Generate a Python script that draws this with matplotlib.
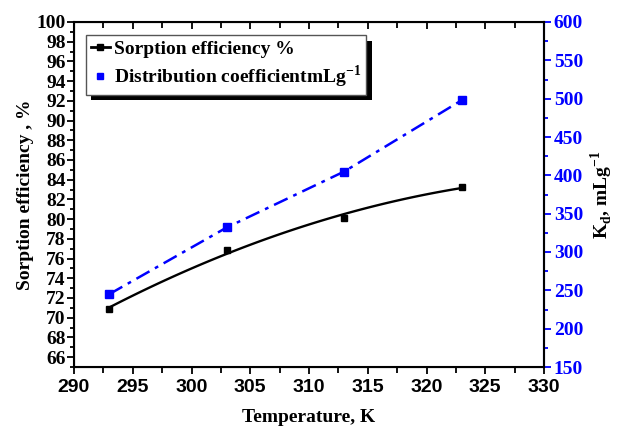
import matplotlib
matplotlib.use('Agg')
import matplotlib.pyplot as plt
import numpy as np
from matplotlib import patheffects
from matplotlib.ticker import MultipleLocator

plt.rcParams['mathtext.fontset'] = 'custom'
plt.rcParams['mathtext.bf'] = 'Liberation Serif:bold'
plt.rcParams['mathtext.rm'] = 'Liberation Serif:bold'

# data
temp = [293, 303, 313, 323]
sorption = [70.9, 76.9, 80.1, 83.3]
kd = [245, 332, 405, 498]

serif = 'Liberation Serif'
sans = 'Liberation Sans'
fs = 14

fig = plt.figure(figsize=(6.2, 4.26), dpi=100)
ax = fig.add_axes([74 / 620, 1 - 367 / 426, 470 / 620, 345 / 426])
ax2 = ax.twinx()

# smooth fitted curve for the sorption efficiency, as in the original
coef = np.polyfit(temp, sorption, 2)
tt = np.linspace(temp[0], temp[-1], 100)
ax.plot(tt, np.polyval(coef, tt), color='black', lw=1.7, zorder=3)
ax.plot(temp, sorption, 's', color='black', ms=5, zorder=4)
ax2.plot(temp, kd, color='blue', lw=1.8, ls=(0, (6, 2.5, 1.5, 2.5)))
ax2.plot(temp, kd, 's', color='blue', ms=5.5)

ax.set_xlim(290, 330)
ax.set_ylim(65, 100)
ax2.set_ylim(150, 600)

ax.xaxis.set_major_locator(MultipleLocator(5))
ax.xaxis.set_minor_locator(MultipleLocator(2.5))
ax.yaxis.set_minor_locator(MultipleLocator(1))
ax.set_yticks(np.arange(66, 101, 2))
ax2.yaxis.set_major_locator(MultipleLocator(50))
ax2.yaxis.set_minor_locator(MultipleLocator(25))

ax.tick_params(axis='x', which='both', direction='out', top=True, width=1.3)
ax.tick_params(axis='x', which='major', length=5, labelsize=fs, pad=4)
ax.tick_params(axis='x', which='minor', length=4)
ax.tick_params(axis='y', which='both', direction='out', width=1.3)
ax.tick_params(axis='y', which='major', length=5, labelsize=fs, pad=1)
ax.tick_params(axis='y', which='minor', length=3)
for t in ax.xaxis.get_major_ticks() + ax.xaxis.get_minor_ticks():
    t.tick2line.set_marker(3)
for lab in ax.get_xticklabels():
    lab.set_fontfamily(sans)
    lab.set_fontweight('bold')
for lab in ax.get_yticklabels():
    lab.set_fontfamily(serif)
    lab.set_fontweight('bold')

ax2.tick_params(axis='y', which='both', direction='out', colors='blue', width=1.3)
ax2.tick_params(axis='y', which='major', length=5, labelsize=fs, pad=2)
ax2.tick_params(axis='y', which='minor', length=3)
for lab in ax2.get_yticklabels():
    lab.set_fontfamily(serif)
    lab.set_fontweight('bold')

for s in ax.spines.values():
    s.set_linewidth(1.5)
ax2.spines['right'].set_color('blue')
ax2.spines['right'].set_linewidth(1.5)

ax.set_xlabel('Temperature, K', fontfamily=serif, fontweight='bold', fontsize=fs, labelpad=9)
ax.set_ylabel('Sorption efficiency , %', fontfamily=serif, fontweight='bold', fontsize=fs, labelpad=2)
ax2.set_ylabel(r'K$_\mathbf{d}$, mLg$^\mathbf{-1}$', fontfamily=serif, fontweight='bold',
               fontsize=fs, labelpad=4)

h1, = ax.plot([], [], 's-', color='black', lw=2, ms=4)
h2, = ax.plot([], [], 's', color='blue', ms=5)
leg = ax.legend([h1, h2], ['Sorption efficiency %', r'Distribution coefficientmLg$^{\mathbf{-1}}$'],
                loc='upper left', bbox_to_anchor=(0.025, 0.962), borderaxespad=0,
                fancybox=False, edgecolor='#555555', framealpha=1, handlelength=1.0,
                handletextpad=0.2, borderpad=0.25, labelspacing=0.3,
                prop={'family': serif, 'weight': 'bold', 'size': fs})
leg.get_frame().set_linewidth(1.0)
leg.get_frame().set_path_effects([
    patheffects.SimplePatchShadow(offset=(4, -4), shadow_rgbFace='black', alpha=1),
    patheffects.Normal()])
leg.set_zorder(10)
ax.set_zorder(ax2.get_zorder() + 1)
ax.patch.set_visible(False)

fig.savefig('out.png', dpi=100)
